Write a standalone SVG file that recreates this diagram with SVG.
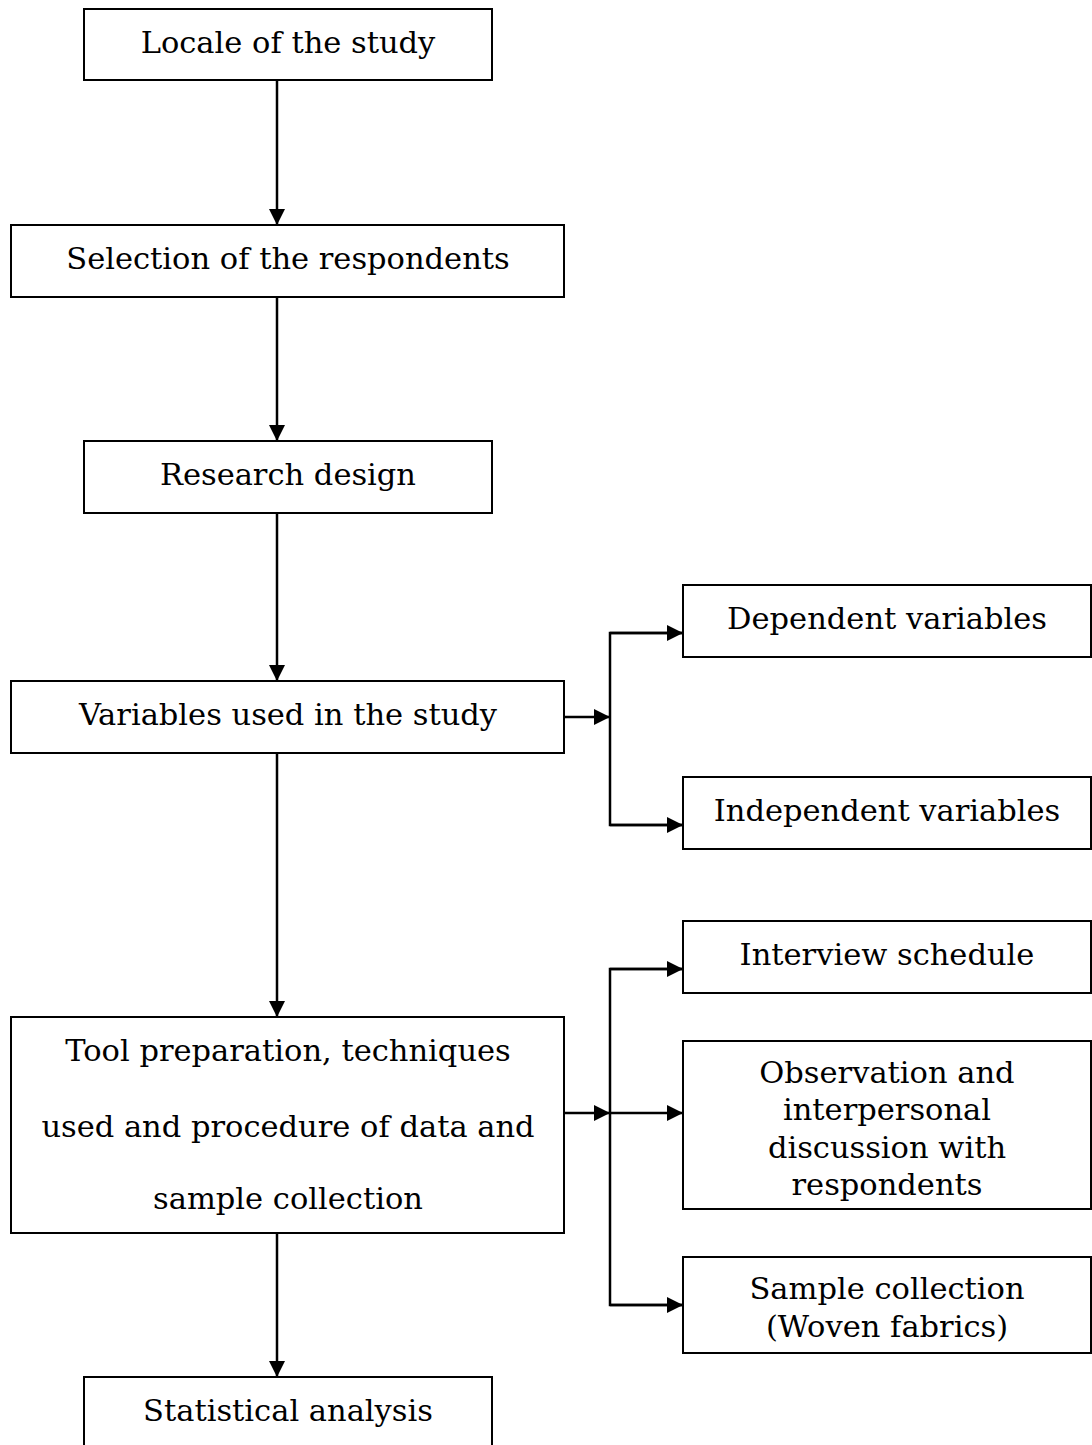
<svg xmlns="http://www.w3.org/2000/svg" width="1092" height="1445" viewBox="0 0 1092 1445">
<style>
.box{fill:#fff;stroke:#000;stroke-width:2}
.t{font-family:"DejaVu Serif","Liberation Serif",serif;font-size:30.5px;fill:#000;text-anchor:middle}
.c{fill:none;stroke:#000;stroke-width:2.5}
</style>
<defs>
<marker id="ah" markerUnits="userSpaceOnUse" markerWidth="16" markerHeight="16" viewBox="0 0 16 16" refX="16" refY="8" orient="auto">
<path d="M0,0 L16,8 L0,16 Z" fill="#000"/>
</marker>
</defs>
<rect width="1092" height="1445" fill="#fff"/>
<g id="connectors">
<line class="c" x1="277" y1="80" x2="277" y2="225" marker-end="url(#ah)"/>
<line class="c" x1="277" y1="297" x2="277" y2="441" marker-end="url(#ah)"/>
<line class="c" x1="277" y1="513" x2="277" y2="681" marker-end="url(#ah)"/>
<line class="c" x1="277" y1="753" x2="277" y2="1017" marker-end="url(#ah)"/>
<line class="c" x1="277" y1="1233" x2="277" y2="1377" marker-end="url(#ah)"/>
<line class="c" x1="564" y1="717" x2="610" y2="717" marker-end="url(#ah)"/>
<polyline class="c" points="683,633 610,633 610,825 683,825"/>
<line class="c" x1="610" y1="633" x2="683" y2="633" marker-end="url(#ah)"/>
<line class="c" x1="610" y1="825" x2="683" y2="825" marker-end="url(#ah)"/>
<line class="c" x1="564" y1="1113" x2="610" y2="1113" marker-end="url(#ah)"/>
<polyline class="c" points="683,969 610,969 610,1305 683,1305"/>
<line class="c" x1="610" y1="969" x2="683" y2="969" marker-end="url(#ah)"/>
<line class="c" x1="610" y1="1113" x2="683" y2="1113" marker-end="url(#ah)"/>
<line class="c" x1="610" y1="1305" x2="683" y2="1305" marker-end="url(#ah)"/>
</g>
<g id="locale">
<rect class="box" x="84" y="9" width="408" height="71"/>
<text class="t" x="288" y="53">Locale of the study</text>
</g>
<g id="selection">
<rect class="box" x="11" y="225" width="553" height="72"/>
<text class="t" x="288" y="269">Selection of the respondents</text>
</g>
<g id="design">
<rect class="box" x="84" y="441" width="408" height="72"/>
<text class="t" x="288" y="485">Research design</text>
</g>
<g id="variables">
<rect class="box" x="11" y="681" width="553" height="72"/>
<text class="t" x="288" y="725">Variables used in the study</text>
</g>
<g id="dependent">
<rect class="box" x="683" y="585" width="408" height="72"/>
<text class="t" x="887" y="629">Dependent variables</text>
</g>
<g id="independent">
<rect class="box" x="683" y="777" width="408" height="72"/>
<text class="t" x="887" y="821">Independent variables</text>
</g>
<g id="tool">
<rect class="box" x="11" y="1017" width="553" height="216"/>
<text class="t" x="288" y="1061">Tool preparation, techniques</text>
<text class="t" x="288" y="1137">used and procedure of data and</text>
<text class="t" x="288" y="1209">sample collection</text>
</g>
<g id="interview">
<rect class="box" x="683" y="921" width="408" height="72"/>
<text class="t" x="887" y="965">Interview schedule</text>
</g>
<g id="observation">
<rect class="box" x="683" y="1041" width="408" height="168"/>
<text class="t" x="887" y="1083">Observation and</text>
<text class="t" x="887" y="1120">interpersonal</text>
<text class="t" x="887" y="1158">discussion with</text>
<text class="t" x="887" y="1195">respondents</text>
</g>
<g id="sample">
<rect class="box" x="683" y="1257" width="408" height="96"/>
<text class="t" x="887" y="1299">Sample collection</text>
<text class="t" x="887" y="1337">(Woven fabrics)</text>
</g>
<g id="statistical">
<rect class="box" x="84" y="1377" width="408" height="80"/>
<text class="t" x="288" y="1421">Statistical analysis</text>
</g>
</svg>
